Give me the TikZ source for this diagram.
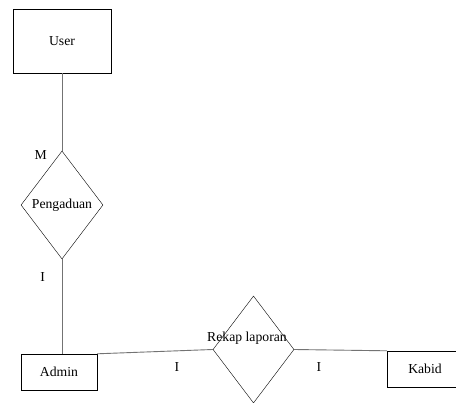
\documentclass[tikz,border=0pt]{standalone}
\usepackage{fontspec}
\setmainfont{Liberation Serif}
\usetikzlibrary{shapes.geometric}

\tikzset{
    entity/.style={draw=black,rectangle,inner sep=0pt,font=\fontsize{13.7}{15}\selectfont},
    relation/.style={draw=black,diamond,inner sep=0pt,font=\fontsize{13.7}{15}\selectfont},
    card/.style={inner sep=0pt,font=\fontsize{13.7}{15}\selectfont},
    link/.style={draw=black!55,line width=0.9pt}
}

\begin{document}
\begin{tikzpicture}[x=1pt,y=-1pt]
        \useasboundingbox (0,0) rectangle (456,403);
        \fill[white] (0,0) rectangle (456,403);
        % entities
        \node[entity,minimum width=98pt,minimum height=64pt] (user) at (62,41) {User};
        \node[entity,minimum width=76pt,minimum height=36pt] (admin) at (59,372) {Admin};
        \node[entity,minimum width=84pt,minimum height=36pt] (kabid) at (429,369) {\hspace*{-8pt}Kabid};
        % relations
        \node[relation,minimum width=82pt,minimum height=108pt] (pengaduan) at (62,205) {Pengaduan};
        \node[relation,minimum width=81pt,minimum height=107pt] (rekap) at (253.5,349.5) {};
        \node[card] (rekaplabel) at (247,338) {Rekap laporan};
        % connectors
        \draw[link] (user.south) -- (pengaduan.north);
        \draw[link] (pengaduan.south) -- (pengaduan.south |- admin.north);
        \draw[link] (admin.north east) -- (rekap.west);
        \draw[link] (rekap.east) -- (kabid.north west);
        % cardinalities
        \node[card] (cardM) at (40.7,155) {M};
        \node[card] (cardPA) at (42.7,277) {I};
        \node[card] (cardAR) at (177,367) {I};
        \node[card] (cardRK) at (319,367) {I};
    \end{tikzpicture}
\end{document}
